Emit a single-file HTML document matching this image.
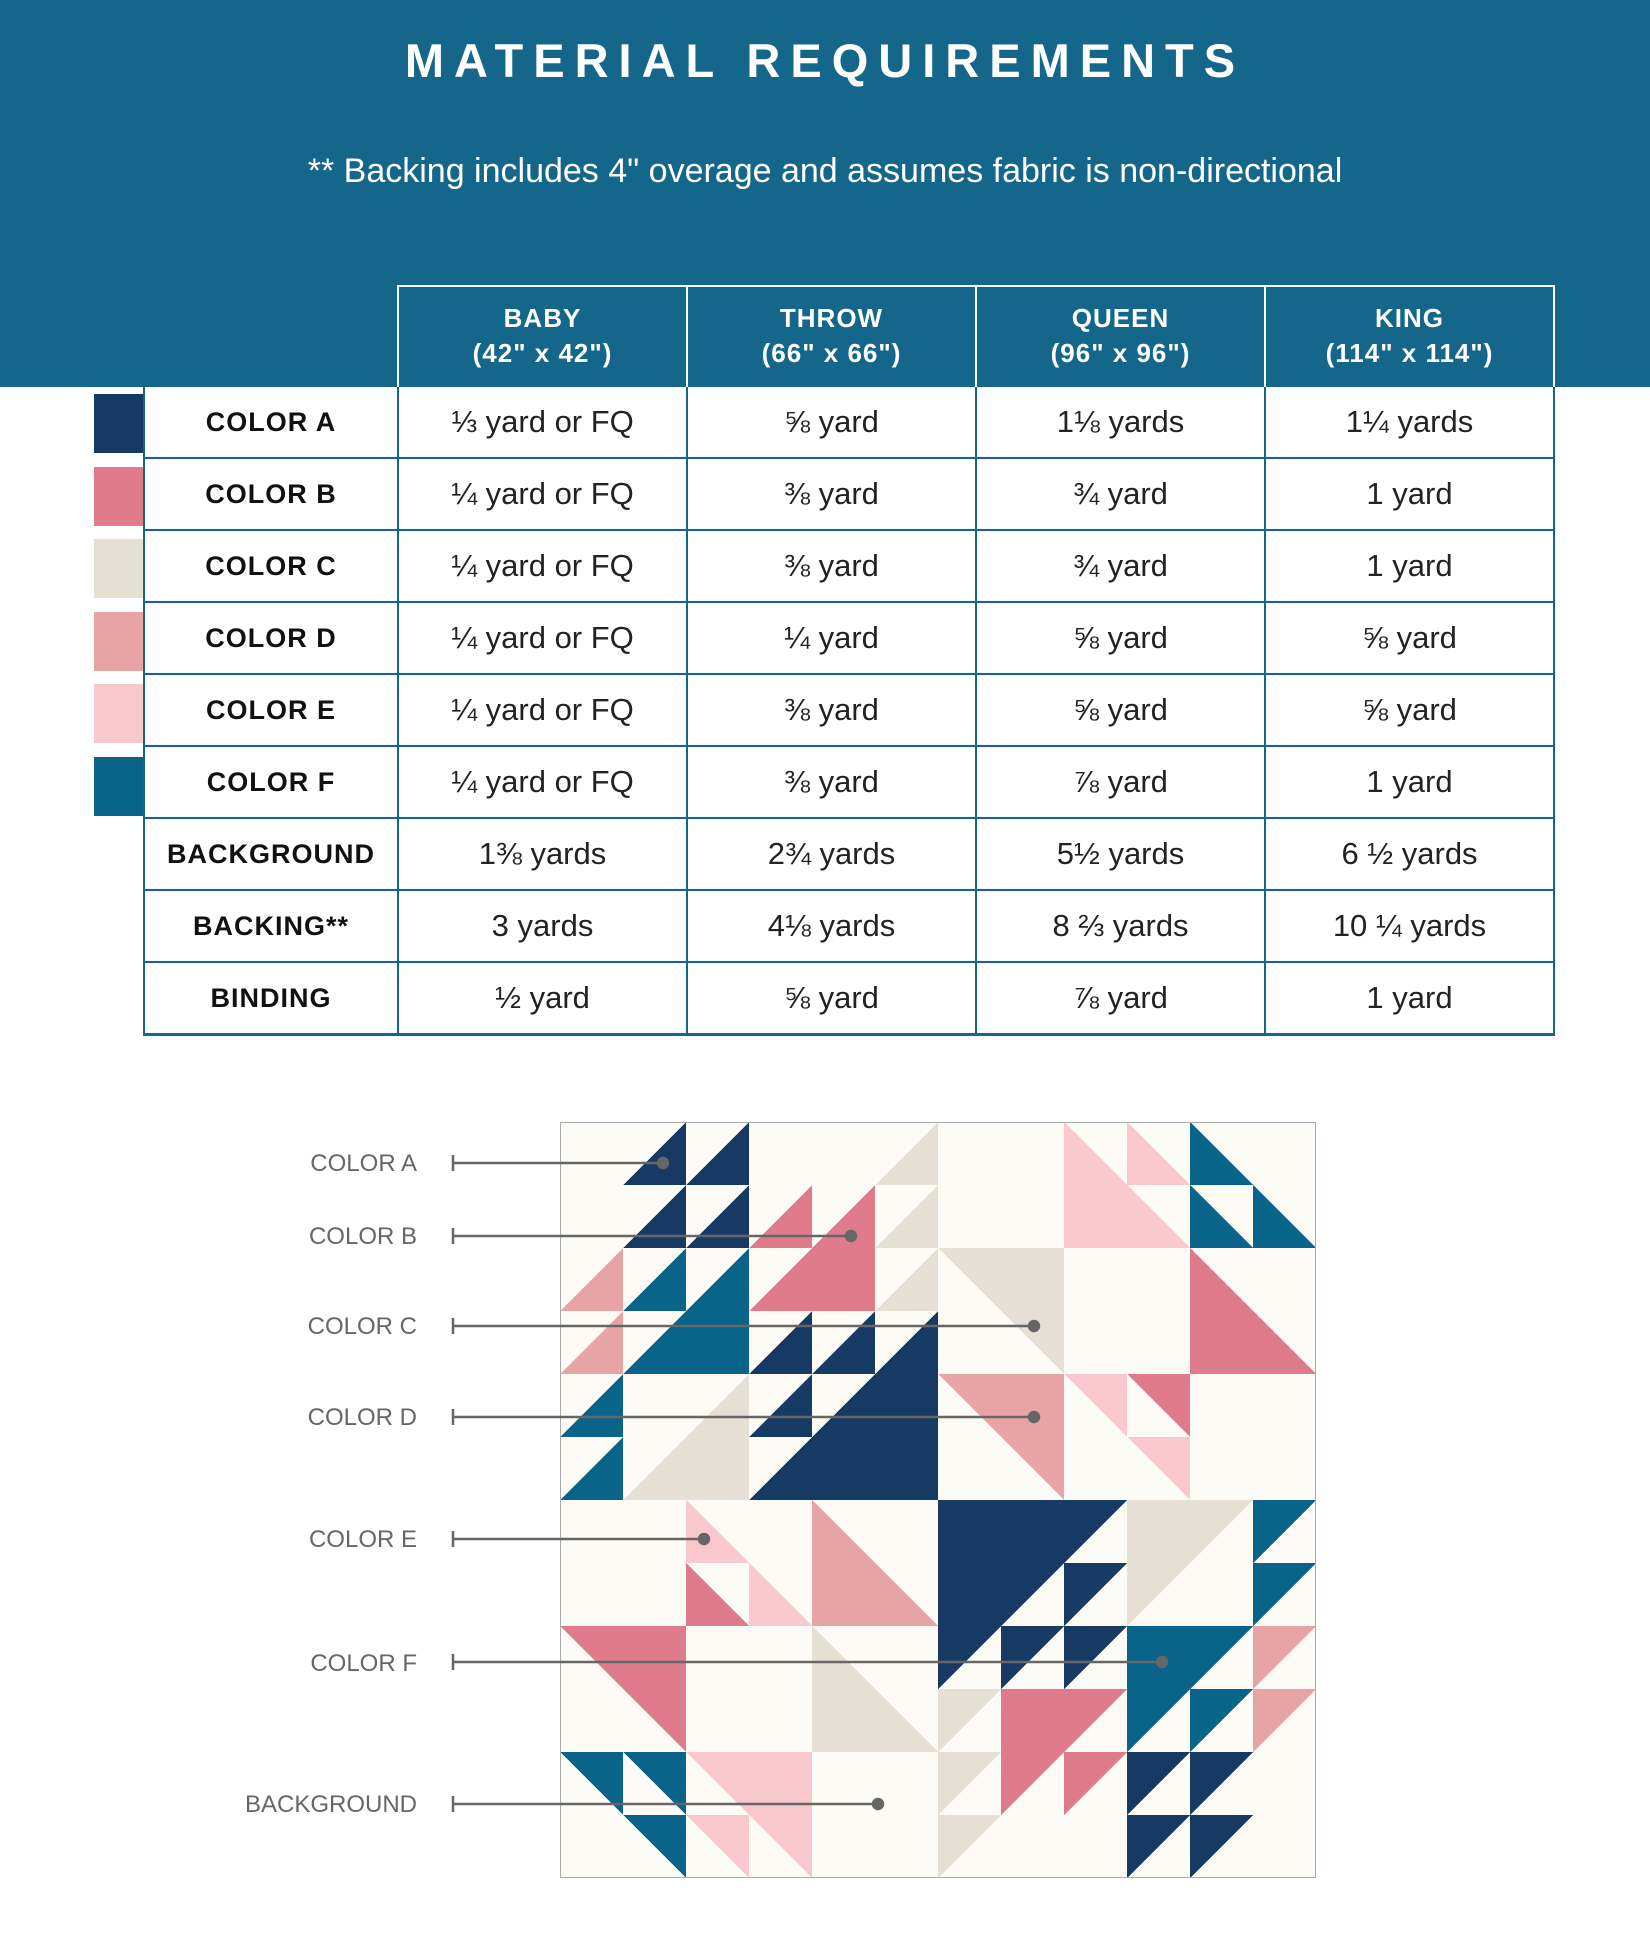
<!DOCTYPE html>
<html><head><meta charset="utf-8"><style>
html,body{margin:0;padding:0;background:#fff;}
body{width:1650px;height:1934px;position:relative;overflow:hidden;font-family:"Liberation Sans","DejaVu Sans",sans-serif;}
.hdr{position:absolute;left:0;top:0;width:1650px;height:387px;background:#14668a;}
.title{position:absolute;top:33px;left:0;width:1650px;text-align:center;color:#fff;font-weight:bold;font-size:47px;letter-spacing:10px;}
.sub{position:absolute;top:152px;left:0;width:1650px;text-align:center;color:#fff;font-size:34px;}
table{position:absolute;left:143px;top:285px;border-collapse:collapse;border-bottom:3px solid #14668a;}
td{border:2px solid #14668a;text-align:center;font-size:31px;color:#222;height:70px;padding:0;}
td.l{font-weight:bold;font-size:27px;letter-spacing:1px;width:252px;color:#111;}
td.v{width:287px;}
tr.h td{height:98px;color:#fff;font-weight:bold;font-size:26px;letter-spacing:1px;line-height:35px;}
tr.h td.e{border:none;border-right:2px solid #fff;}
tr.h td.hc{border:2px solid #fff;border-bottom:none;}
.sw{position:absolute;left:94px;width:49px;height:59px;}
.lab{position:absolute;width:417px;left:0;text-align:right;color:#666;font-size:24px;}
</style></head><body>
<div class="hdr"></div>
<div class="title">MATERIAL REQUIREMENTS</div>
<div class="sub">** Backing includes 4" overage and assumes fabric is non-directional</div>
<table>
<tr class="h"><td class="e" style="width:252px"></td><td class="hc">BABY<br>(42" x 42")</td><td class="hc">THROW<br>(66" x 66")</td><td class="hc">QUEEN<br>(96" x 96")</td><td class="hc">KING<br>(114" x 114")</td></tr>
<tr><td class="l">COLOR A</td><td class="v">⅓ yard or FQ</td><td class="v">⅝ yard</td><td class="v">1⅛ yards</td><td class="v">1¼ yards</td></tr>
<tr><td class="l">COLOR B</td><td class="v">¼ yard or FQ</td><td class="v">⅜ yard</td><td class="v">¾ yard</td><td class="v">1 yard</td></tr>
<tr><td class="l">COLOR C</td><td class="v">¼ yard or FQ</td><td class="v">⅜ yard</td><td class="v">¾ yard</td><td class="v">1 yard</td></tr>
<tr><td class="l">COLOR D</td><td class="v">¼ yard or FQ</td><td class="v">¼ yard</td><td class="v">⅝ yard</td><td class="v">⅝ yard</td></tr>
<tr><td class="l">COLOR E</td><td class="v">¼ yard or FQ</td><td class="v">⅜ yard</td><td class="v">⅝ yard</td><td class="v">⅝ yard</td></tr>
<tr><td class="l">COLOR F</td><td class="v">¼ yard or FQ</td><td class="v">⅜ yard</td><td class="v">⅞ yard</td><td class="v">1 yard</td></tr>
<tr><td class="l">BACKGROUND</td><td class="v">1⅜ yards</td><td class="v">2¾ yards</td><td class="v">5½ yards</td><td class="v">6 ½ yards</td></tr>
<tr><td class="l">BACKING**</td><td class="v">3 yards</td><td class="v">4⅛ yards</td><td class="v">8 ⅔ yards</td><td class="v">10 ¼ yards</td></tr>
<tr><td class="l">BINDING</td><td class="v">½ yard</td><td class="v">⅝ yard</td><td class="v">⅞ yard</td><td class="v">1 yard</td></tr>
</table>
<div class="sw" style="top:394px;background:#163a63"></div>
<div class="sw" style="top:467px;background:#e07b8c"></div>
<div class="sw" style="top:539px;background:#e6dfd4"></div>
<div class="sw" style="top:612px;background:#e8a3a4"></div>
<div class="sw" style="top:684px;background:#f9c8cc"></div>
<div class="sw" style="top:757px;background:#0a6489"></div>

<svg style="position:absolute;left:560px;top:1122px" width="756" height="756" viewBox="0 0 12 12" shape-rendering="crispEdges">
<rect x="0" y="0" width="12" height="12" fill="#fdfbf5"/>
<g fill="#163a63">
<polygon points="1,1 2,0 2,1"/><polygon points="2,1 3,0 3,1"/>
<polygon points="1,2 2,1 2,2"/><polygon points="2,2 3,1 3,2"/>
<polygon points="3,4 4,3 4,4"/><polygon points="4,4 5,3 5,4"/>
<polygon points="3,5 4,4 4,5"/><polygon points="3,6 6,3 6,6"/>
<polygon points="6,6 9,6 6,9"/><polygon points="8,7 9,7 8,8"/>
<polygon points="7,8 8,8 7,9"/><polygon points="8,8 9,8 8,9"/>
<polygon points="9,10 10,10 9,11"/><polygon points="10,10 11,10 10,11"/>
<polygon points="9,11 10,11 9,12"/><polygon points="10,11 11,11 10,12"/>
</g>
<g fill="#e6dfd4">
<polygon points="5,1 6,0 6,1"/><polygon points="5,2 6,1 6,2"/><polygon points="5,3 6,2 6,3"/>
<polygon points="6,2 8,2 8,4"/><polygon points="1,6 3,4 3,6"/>
<polygon points="9,6 11,6 9,8"/><polygon points="4,8 6,10 4,10"/>
<polygon points="6,9 7,9 6,10"/><polygon points="6,10 7,10 6,11"/><polygon points="6,11 7,11 6,12"/>
</g>
<g fill="#f9c8cc">
<polygon points="8,0 10,2 8,2"/><polygon points="9,0 10,1 9,1"/>
<polygon points="8,4 9,4 9,5"/><polygon points="9,5 10,5 10,6"/>
<polygon points="2,6 3,7 2,7"/><polygon points="3,7 4,8 3,8"/>
<polygon points="2,10 4,10 4,12"/><polygon points="2,11 3,11 3,12"/>
</g>
<g fill="#0a6489">
<polygon points="10,0 11,1 10,1"/><polygon points="10,1 11,2 10,2"/><polygon points="11,1 12,2 11,2"/>
<polygon points="1,3 2,2 2,3"/><polygon points="1,4 3,2 3,4"/>
<polygon points="0,5 1,4 1,5"/><polygon points="0,6 1,5 1,6"/>
<polygon points="11,6 12,6 11,7"/><polygon points="11,7 12,7 11,8"/>
<polygon points="9,8 11,8 9,10"/><polygon points="10,9 11,9 10,10"/>
<polygon points="0,10 1,10 1,11"/><polygon points="1,10 2,10 2,11"/><polygon points="1,11 2,11 2,12"/>
</g>
<g fill="#e07b8c">
<polygon points="3,2 4,1 4,2"/><polygon points="3,3 5,1 5,3"/>
<polygon points="10,2 12,4 10,4"/><polygon points="9,4 10,4 10,5"/>
<polygon points="2,7 3,8 2,8"/><polygon points="0,8 2,8 2,10"/>
<polygon points="7,9 9,9 7,11"/><polygon points="8,10 9,10 8,11"/>
</g>
<g fill="#e8a3a4">
<polygon points="0,3 1,2 1,3"/><polygon points="0,4 1,3 1,4"/>
<polygon points="6,4 8,4 8,6"/><polygon points="4,6 6,8 4,8"/>
<polygon points="11,8 12,8 11,9"/><polygon points="11,9 12,9 11,10"/>
</g>
<rect x="0" y="0" width="12" height="12" fill="none" stroke="#aaa" stroke-width="0.03"/>
</svg>

<svg style="position:absolute;left:0;top:0" width="1650" height="1934">
<g stroke="#666" stroke-width="2.5" fill="#666">
<line x1="453" y1="1163" x2="663" y2="1163"/><line x1="453" y1="1155" x2="453" y2="1171"/><circle cx="663" cy="1163" r="5"/>
<line x1="453" y1="1236" x2="851" y2="1236"/><line x1="453" y1="1228" x2="453" y2="1244"/><circle cx="851" cy="1236" r="5"/>
<line x1="453" y1="1326" x2="1034" y2="1326"/><line x1="453" y1="1318" x2="453" y2="1334"/><circle cx="1034" cy="1326" r="5"/>
<line x1="453" y1="1417" x2="1034" y2="1417"/><line x1="453" y1="1409" x2="453" y2="1425"/><circle cx="1034" cy="1417" r="5"/>
<line x1="453" y1="1539" x2="704" y2="1539"/><line x1="453" y1="1531" x2="453" y2="1547"/><circle cx="704" cy="1539" r="5"/>
<line x1="453" y1="1662" x2="1162" y2="1662"/><line x1="453" y1="1654" x2="453" y2="1670"/><circle cx="1162" cy="1662" r="5"/>
<line x1="453" y1="1804" x2="878" y2="1804"/><line x1="453" y1="1796" x2="453" y2="1812"/><circle cx="878" cy="1804" r="5"/>
</g>
</svg>
<div class="lab" style="top:1150px">COLOR A</div>
<div class="lab" style="top:1223px">COLOR B</div>
<div class="lab" style="top:1313px">COLOR C</div>
<div class="lab" style="top:1404px">COLOR D</div>
<div class="lab" style="top:1526px">COLOR E</div>
<div class="lab" style="top:1650px">COLOR F</div>
<div class="lab" style="top:1791px">BACKGROUND</div>
</body></html>
